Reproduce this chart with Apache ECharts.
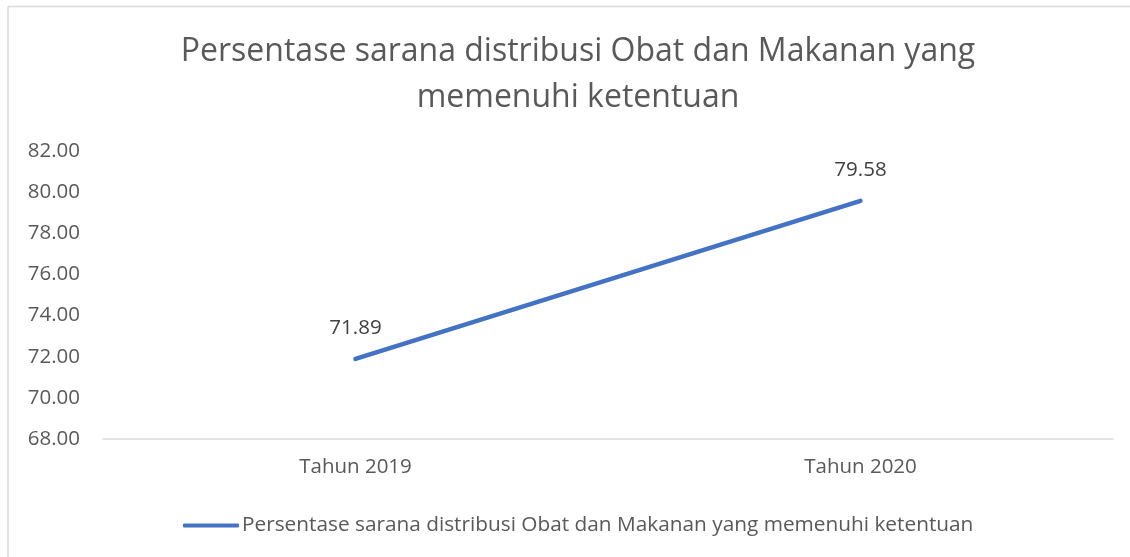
<!DOCTYPE html>
<html>
<head>
<meta charset="utf-8">
<script src="https://cdn.jsdelivr.net/npm/echarts@6/dist/echarts.min.js"></script>
<style>html,body{margin:0;padding:0;background:#fff;}#c{width:1130px;height:557px;}</style>
</head>
<body>
<div id="c"></div>
<script>
const categories = ['Tahun 2019', 'Tahun 2020'];
const seriesName = 'Persentase sarana distribusi Obat dan Makanan yang memenuhi ketentuan';
const values = [71.89, 79.58];
const yMin = 68, yMax = 82, yStep = 2;

const chart = echarts.init(document.getElementById('c'));
const font = 'Open Sans';
chart.setOption({
  animation: false,
  backgroundColor: '#fff',
  textStyle: { fontFamily: font },
  graphic: [
    { type: 'line', shape: { x1: 8, y1: 6.5, x2: 1130, y2: 6.5 }, style: { stroke: '#d9d9d9', lineWidth: 1.5 } },
    { type: 'line', shape: { x1: 8, y1: 6.5, x2: 8, y2: 557 }, style: { stroke: '#d9d9d9', lineWidth: 1.5 } }
  ],
  title: {
    text: 'Persentase sarana distribusi Obat dan Makanan yang\nmemenuhi ketentuan',
    left: 573, textAlign: 'center', top: 24,
    textStyle: { fontFamily: font, fontSize: 32, fontWeight: 'normal', color: '#595959', lineHeight: 46 }
  },
  legend: {
    bottom: 16, left: 178,
    itemWidth: 56, itemHeight: 4, itemGap: 4,
    icon: 'roundRect',
    textStyle: { fontFamily: font, fontSize: 20.8, color: '#595959', padding: [0, 0, 0, -2] },
    data: [{ name: seriesName, icon: 'roundRect', itemStyle: { color: '#4472c4', opacity: 1 } }]
  },
  grid: { left: 103, right: 17, top: 151, bottom: 118, containLabel: false },
  xAxis: {
    type: 'category', data: categories, boundaryGap: true,
    axisLine: { lineStyle: { color: '#d9d9d9', width: 1.5 } },
    axisTick: { show: false },
    axisLabel: { fontFamily: font, fontSize: 20.5, color: '#595959', margin: 18 }
  },
  yAxis: {
    type: 'value', min: yMin, max: yMax, interval: yStep,
    axisLine: { show: false }, axisTick: { show: false },
    splitLine: { show: false },
    axisLabel: { fontFamily: font, fontSize: 20.5, color: '#595959', margin: 23, formatter: v => v.toFixed(2) }
  },
  series: [{
    name: seriesName, type: 'line', data: values,
    symbol: 'circle', symbolSize: 1, showSymbol: true,
    lineStyle: { color: '#4472c4', width: 4.5, cap: 'round' },
    itemStyle: { color: '#4472c4' },
    label: { show: true, position: 'top', distance: 20, fontFamily: font, fontSize: 20.5, color: '#404040', formatter: p => p.value.toFixed(2) }
  }]
});
</script>
</body>
</html>
